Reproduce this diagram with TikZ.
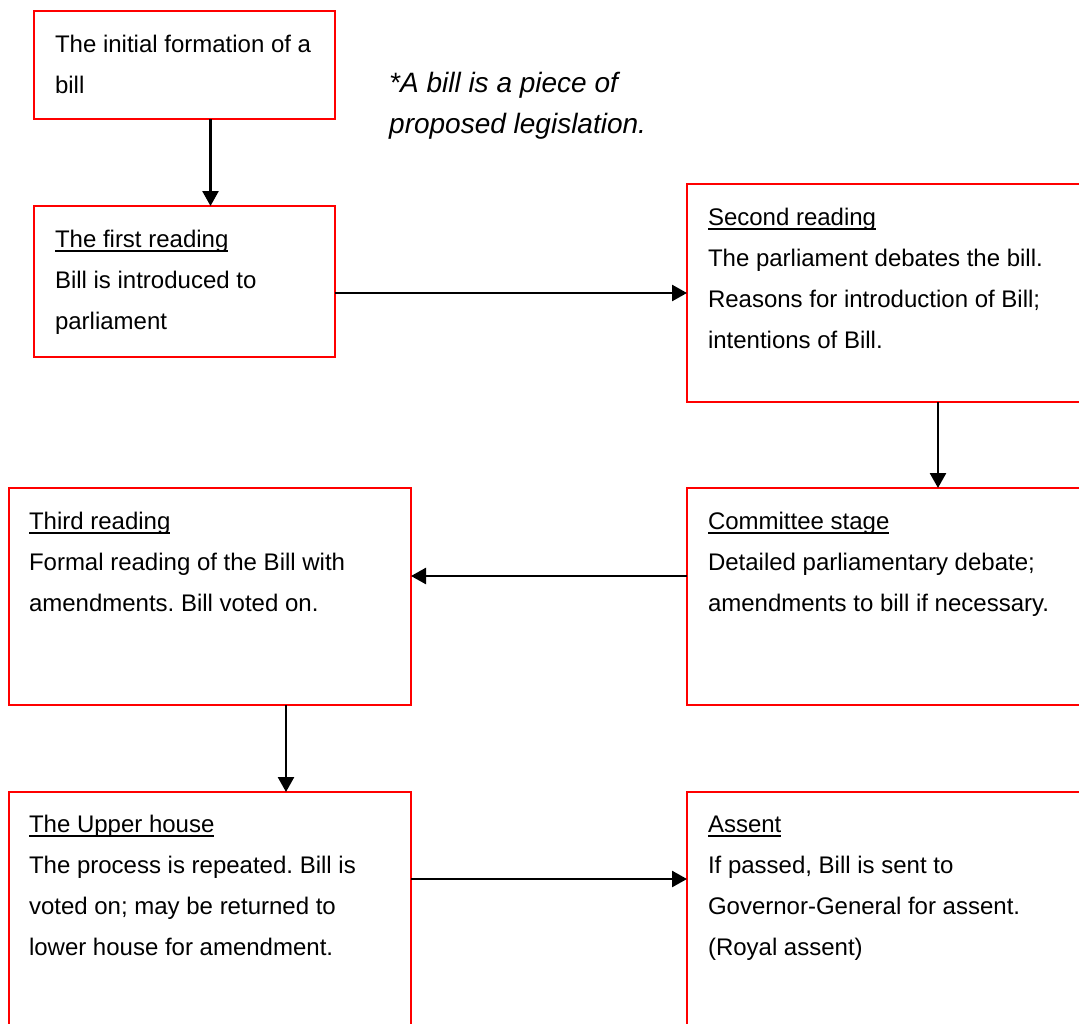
\documentclass[tikz,border=0pt]{standalone}
\usepackage{fontspec}
\setmainfont{Liberation Sans}
\usetikzlibrary{arrows.meta,calc}
\frenchspacing

% underlined stage title, rule placed just below the baseline
\newcommand{\stagetitle}[1]{\setbox0=\hbox{#1}\rlap{\rule[-4.6pt]{\wd0}{2pt}}\box0}
% top-aligned block of text; first baseline sits 24pt below the block's top
\newcommand{\stagetext}[1]{\parbox[t]{380pt}{\raggedright\rule{0pt}{24pt}#1}}

\begin{document}
\begin{tikzpicture}[x=1pt,y=-1pt,
  stagebox/.style={draw=red, line width=2pt, rectangle, outer sep=0pt,
    inner sep=0pt, anchor=north west},
  stagelabel/.style={anchor=north west, inner sep=0pt, outer sep=0pt,
    font=\fontsize{24pt}{41pt}\selectfont},
  arr/.style={draw=black, line width=2.6pt, -{Triangle[length=15pt,width=16pt]}}]

\useasboundingbox (0,0) rectangle (1079,1023);
\clip (0,0) rectangle (1079,1023);

% stage boxes
\node[stagebox, minimum width=301pt, minimum height=108pt] (b1) at (34,11) {};
\node[stagebox, minimum width=301pt, minimum height=151pt] (b2) at (34,206) {};
\node[stagebox, minimum width=502pt, minimum height=218pt] (b3) at (687,184) {};
\node[stagebox, minimum width=502pt, minimum height=217pt] (b4) at (687,488) {};
\node[stagebox, minimum width=402pt, minimum height=217pt] (b5) at (9,488) {};
\node[stagebox, minimum width=402pt, minimum height=260pt] (b6) at (9,792) {};
\node[stagebox, minimum width=502pt, minimum height=260pt] (b7) at (687,792) {};

% box contents
\node[stagelabel] (t1) at ($(b1.north west)+(21,17)$)
  {\stagetext{The initial formation of a\\ bill}};
\node[stagelabel] (t2) at ($(b2.north west)+(21,17)$)
  {\stagetext{\stagetitle{The first reading}\\ Bill is introduced to\\ parliament}};
\node[stagelabel] (t3) at ($(b3.north west)+(21,17)$)
  {\stagetext{\stagetitle{Second reading}\\ The parliament debates the bill.\\ Reasons for introduction of Bill;\\ intentions of Bill.}};
\node[stagelabel] (t4) at ($(b4.north west)+(21,17)$)
  {\stagetext{\stagetitle{Committee stage}\\ Detailed parliamentary debate;\\ amendments to bill if necessary.}};
\node[stagelabel] (t5) at ($(b5.north west)+(20,17)$)
  {\stagetext{\stagetitle{Third reading}\\ Formal reading of the Bill with\\ amendments. Bill voted on.}};
\node[stagelabel] (t6) at ($(b6.north west)+(20,16)$)
  {\stagetext{\stagetitle{The Upper house}\\ The process is repeated. Bill is\\ voted on; may be returned to\\ lower house for amendment.}};
\node[stagelabel] (t7) at ($(b7.north west)+(21,16)$)
  {\stagetext{\stagetitle{Assent}\\ If passed, Bill is sent to\\ Governor-General for assent.\\ (Royal assent)}};

% footnote on the term "bill"
\node[anchor=north west, inner sep=0pt, font=\fontsize{28pt}{41pt}\selectfont\itshape] (note) at (389,64)
  {\parbox[t]{400pt}{\raggedright\rule{0pt}{28pt}*A bill is a piece of\\ proposed legislation.}};

% flow between stages
\draw[arr] ([xshift=26pt]b1.south) -- ([xshift=26pt]b2.north);
\draw[arr] (b2.east |- b3.west) -- (b3.west);
\draw[arr] (b3.south) -- (b4.north);
\draw[arr] ([yshift=20.5pt]b4.west) -- ([yshift=20.5pt]b5.east);
\draw[arr] ([xshift=76pt]b5.south) -- ([xshift=76pt]b6.north);
\draw[arr] ([yshift=43pt]b6.east) -- ([yshift=43pt]b7.west);

\end{tikzpicture}
\end{document}
